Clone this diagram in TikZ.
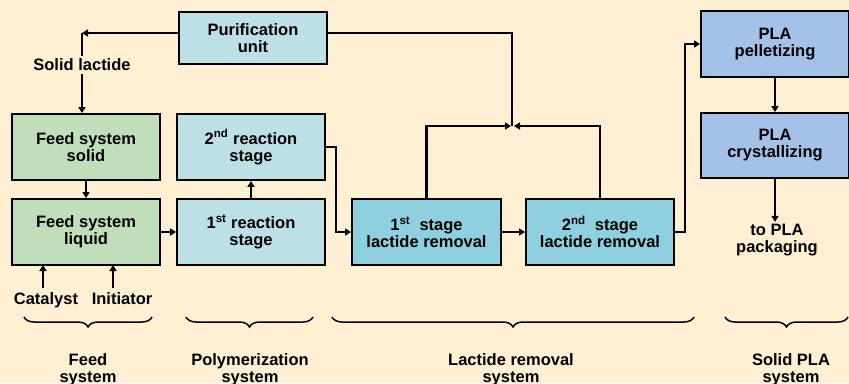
\documentclass[tikz,border=0pt]{standalone}
\usepackage{fontspec}
\setmainfont{Liberation Sans}
\usetikzlibrary{arrows.meta,decorations.pathreplacing}

\definecolor{bgcream}{RGB}{255,239,211}
\definecolor{feedgreen}{RGB}{193,222,187}
\definecolor{reactblue}{RGB}{188,224,229}
\definecolor{removecyan}{RGB}{142,208,224}
\definecolor{plablue}{RGB}{164,194,232}

\tikzset{
  unit/.style={draw=black, line width=1.8pt, minimum width=148pt, minimum height=66pt,
    align=center, font=\fontsize{16.5}{17}\selectfont\bfseries},
  label/.style={align=center, inner sep=2pt, font=\fontsize{16.5}{17}\selectfont\bfseries},
  line/.style={line width=2.2pt},
  flow/.style={line width=2.2pt, -{Triangle[length=6pt,width=7pt]}},
  sysbrace/.style={line width=1.5pt, decorate, decoration={brace, mirror, amplitude=10pt}}
}

\begin{document}
\begin{tikzpicture}[x=1pt, y=-1pt]
    % Background and page size
    \useasboundingbox (0,0) rectangle (849,383);
    \fill[bgcream] (0,0) rectangle (849,383);
    % Feed system
    \node[unit, fill=feedgreen] (fsolid) at (86,147) {Feed system\\solid};
    \node[unit, fill=feedgreen] (fliquid) at (86,232) {Feed system\\liquid};
    \node[label, anchor=base] (catalyst) at (46,304) {Catalyst};
    \node[label, anchor=base] (initiator) at (122,304) {Initiator};
    % Polymerization system
    \node[unit, fill=reactblue] (react2) at (251,147) {2\textsuperscript{nd} reaction\\stage};
    \node[unit, fill=reactblue] (react1) at (251,232) {1\textsuperscript{st} reaction\\stage};
    \node[unit, fill=reactblue, minimum height=52pt] (purif) at (253,38) {Purification\\unit};
    % Lactide removal system
    \node[unit, fill=removecyan, minimum width=149pt] (remove1) at (426.5,232) {1\textsuperscript{st}\ \ stage\\lactide removal};
    \node[unit, fill=removecyan] (remove2) at (600,232) {2\textsuperscript{nd}\ \ stage\\lactide removal};
    % Solid PLA system
    \node[unit, fill=plablue] (pellet) at (775,44) {PLA\\pelletizing};
    \node[unit, fill=plablue, minimum height=65pt] (cryst) at (775,145.5) {PLA\\crystallizing};
    \node[label] (pack) at (777,240) {to PLA\\packaging};
    % Recycle of solid lactide
    \coordinate (corner) at (82,33);
    \coordinate (merge) at (512,126);
    \node[label, fill=bgcream, inner sep=3pt] (solidlac) at (82,65) {Solid lactide};
    \draw[flow] (purif.west |- corner) -- (corner);
    \draw[line] (corner) -- (solidlac);
    \draw[flow] (solidlac) -- (corner |- fsolid.north);
    \draw[line] (purif.east |- corner) -| (merge);
    \draw[flow] (remove1.north) |- ([xshift=-1pt]merge);
    \draw[flow] (remove2.north) |- ([xshift=2pt]merge);
    % Main flow
    \draw[flow] (fsolid) -- (fliquid);
    \draw[flow] (43,288) -- (43,265);
    \draw[flow] (113,288) -- (113,265);
    \draw[flow] (fliquid) -- (react1);
    \draw[flow] (react1) -- (react2);
    \draw[flow] (react2.east) -- ++(10,0) |- (remove1.west);
    \draw[flow] (remove1) -- (remove2);
    \draw[flow] (remove2.east) -- ++(10,0) |- (pellet.west);
    \draw[flow] (pellet) -- (cryst);
    \draw[flow] (cryst.south) -- (cryst.south |- pack.north);
    % Braces and system names
    \draw[sysbrace] (24,317) -- (152,317);
    \draw[sysbrace] (186,317) -- (313,317);
    \draw[sysbrace] (332,317) -- (694,317);
    \draw[sysbrace] (725,317) -- (848,317);
    \node[label] (feedsys) at (88,370) {Feed\\system};
    \node[label] (polysys) at (250,370) {Polymerization\\system};
    \node[label] (remsys) at (511,370) {Lactide removal\\system};
    \node[label] (plasys) at (791,370) {Solid PLA\\system};
\end{tikzpicture}
\end{document}
